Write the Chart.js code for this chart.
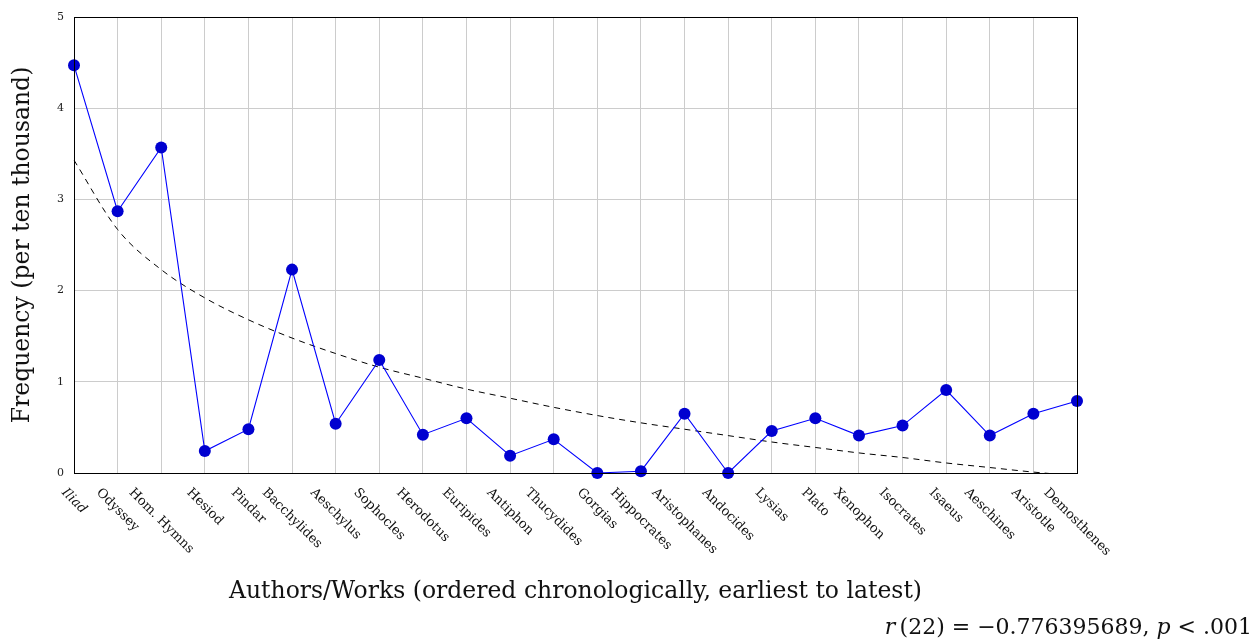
<!DOCTYPE html>
<html>
<head>
<meta charset="utf-8">
<script src="https://cdn.jsdelivr.net/npm/chart.js@4/dist/chart.umd.min.js"></script>
<style>
  html, body { margin: 0; padding: 0; background: #fff; }
  #wrap { width: 1255px; height: 641px; position: relative; }
</style>
</head>
<body>
<div id="wrap"><canvas id="c" width="1255" height="641"></canvas></div>
<script>
// Authors / works, earliest to latest
const categories = [
  'Iliad', 'Odyssey', 'Hom. Hymns', 'Hesiod', 'Pindar', 'Bacchylides',
  'Aeschylus', 'Sophocles', 'Herodotus', 'Euripides', 'Antiphon', 'Thucydides',
  'Gorgias', 'Hippocrates', 'Aristophanes', 'Andocides', 'Lysias', 'Plato',
  'Xenophon', 'Isocrates', 'Isaeus', 'Aeschines', 'Aristotle', 'Demosthenes'
];

// Frequency per ten thousand words
const frequency = [
  4.47, 2.87, 3.57, 0.24, 0.48, 2.23,
  0.54, 1.24, 0.42, 0.60, 0.19, 0.37,
  0.00, 0.02, 0.65, 0.00, 0.46, 0.60,
  0.41, 0.52, 0.91, 0.41, 0.65, 0.79
];

// Trend line values at each author
const trend = [
  3.43, 2.67, 2.23, 1.92, 1.68, 1.48,
  1.31, 1.16, 1.04, 0.92, 0.82, 0.72,
  0.63, 0.55, 0.48, 0.41, 0.34, 0.28,
  0.22, 0.17, 0.11, 0.06, 0.01, -0.03
];

const yMin = 0, yMax = 5, yStep = 1;

const xTitle = 'Authors/Works (ordered chronologically, earliest to latest)';
const yTitle = 'Frequency (per ten thousand)';
const statParts = [
  { t: 'r', italic: true },
  { t: '\u2009(22) = \u22120.776395689, ', italic: false },
  { t: 'p', italic: true },
  { t: ' < .001', italic: false }
];

const SERIF = '"DejaVu Serif", "Liberation Serif", serif';

const textPlugin = {
  id: 'textPlugin',
  afterDraw(chart) {
    const ctx = chart.ctx;
    const area = chart.chartArea;
    const xs = chart.scales.x;

    // frame around the plot
    ctx.save();
    ctx.strokeStyle = '#000';
    ctx.lineWidth = 1;
    ctx.strokeRect(Math.round(area.left) + 0.5, Math.round(area.top) + 0.5,
                   Math.round(area.right - area.left), Math.round(area.bottom - area.top));
    ctx.restore();

    // rotated category labels
    const fs = 13;
    const labelTop = area.bottom + 13;
    ctx.save();
    ctx.fillStyle = '#111';
    categories.forEach((lab, i) => {
      const x = xs.getPixelForTick(i);
      ctx.font = (lab === 'Iliad' ? 'italic ' : '') + fs + 'px ' + SERIF;
      const w = ctx.measureText(lab).width;
      const cy = labelTop + (w + fs) * Math.SQRT1_2 / 2;
      ctx.save();
      ctx.translate(x, cy);
      ctx.rotate(Math.PI / 4);
      ctx.textAlign = 'center';
      ctx.textBaseline = 'middle';
      ctx.fillText(lab, 0, 0);
      ctx.restore();
    });
    ctx.restore();

    // x-axis title
    ctx.save();
    ctx.fillStyle = '#111';
    ctx.font = '23.5px ' + SERIF;
    ctx.textAlign = 'center';
    ctx.textBaseline = 'alphabetic';
    ctx.fillText(xTitle, (area.left + area.right) / 2, 598);
    ctx.restore();

    // correlation statistic, right aligned
    ctx.save();
    ctx.fillStyle = '#111';
    ctx.textBaseline = 'alphabetic';
    ctx.textAlign = 'left';
    let total = 0;
    statParts.forEach(p => {
      ctx.font = (p.italic ? 'italic ' : '') + '22px ' + SERIF;
      p.w = ctx.measureText(p.t).width;
      total += p.w;
    });
    let sx = 1252 - total;
    statParts.forEach(p => {
      ctx.font = (p.italic ? 'italic ' : '') + '22px ' + SERIF;
      ctx.fillText(p.t, sx, 634);
      sx += p.w;
    });
    ctx.restore();
  }
};

new Chart(document.getElementById('c'), {
  type: 'line',
  data: {
    labels: categories,
    datasets: [
      {
        data: frequency,
        borderColor: '#0000ff',
        borderWidth: 1.1,
        pointRadius: 6,
        pointBackgroundColor: '#0000d0',
        pointBorderColor: '#0000d0',
        pointBorderWidth: 0,
        tension: 0,
        clip: false
      },
      {
        data: trend,
        borderColor: '#000',
        borderWidth: 1,
        borderDash: [6, 5],
        pointRadius: 0,
        cubicInterpolationMode: 'monotone'
      }
    ]
  },
  options: {
    responsive: false,
    animation: false,
    events: [],
    layout: { padding: { left: 0, top: 17, right: 178, bottom: 168 } },
    plugins: { legend: { display: false }, tooltip: { enabled: false } },
    scales: {
      x: {
        type: 'category',
        offset: false,
        ticks: { display: false },
        grid: { color: '#cccccc', lineWidth: 1, drawTicks: false },
        border: { color: '#000', width: 1 },
        afterFit(scale) { scale.height = 0; }
      },
      y: {
        min: yMin,
        max: yMax,
        ticks: {
          stepSize: yStep,
          padding: 10,
          color: '#222',
          font: { family: SERIF, size: 11 }
        },
        grid: { color: '#cccccc', lineWidth: 1, drawTicks: false },
        border: { color: '#000', width: 1 },
        title: {
          display: true,
          text: yTitle,
          color: '#111',
          font: { family: SERIF, size: 23.5 },
          padding: { top: 9, bottom: 0 }
        },
        afterFit(scale) { scale.width = 74; }
      }
    }
  },
  plugins: [textPlugin]
});
</script>
</body>
</html>
